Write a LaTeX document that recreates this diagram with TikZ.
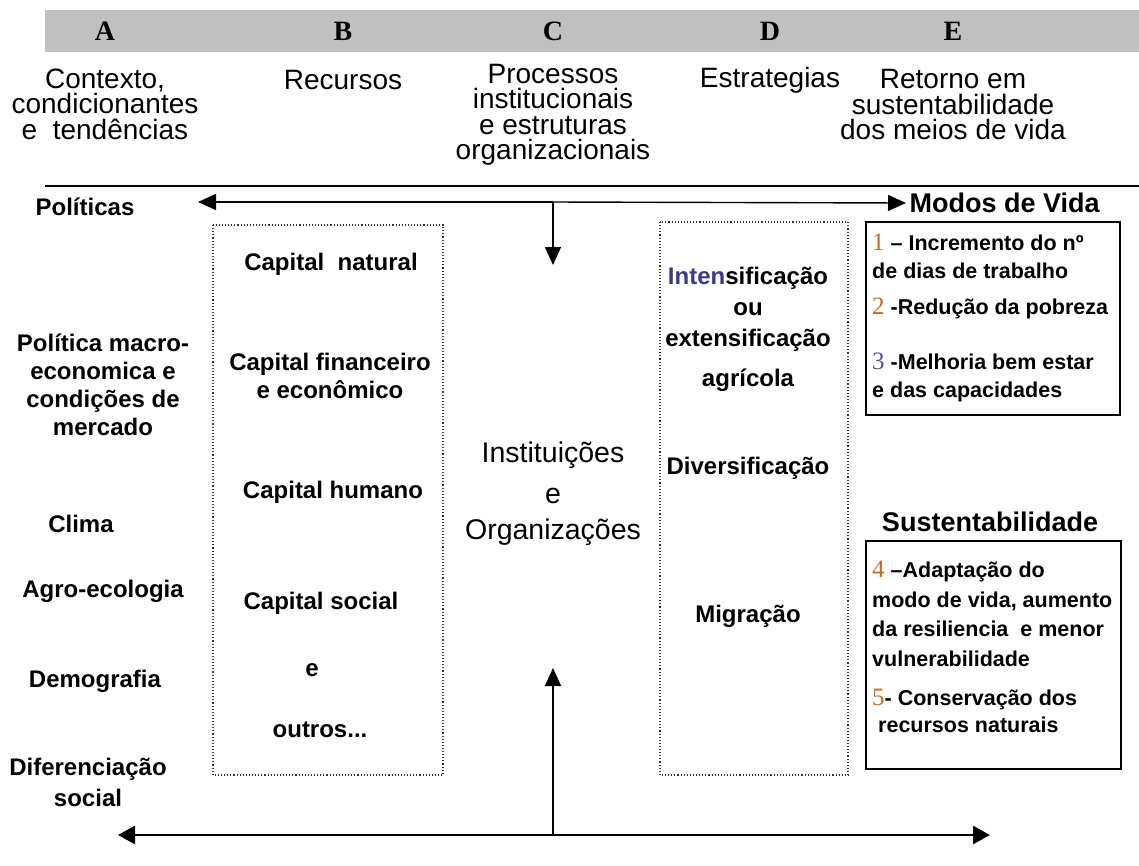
\documentclass[tikz,border=0pt]{standalone}
\usepackage{fontspec}
\setmainfont{Liberation Sans}
\newfontfamily\numfont{Liberation Serif}
\usetikzlibrary{arrows.meta}

\definecolor{bandgray}{RGB}{192,192,192}
\definecolor{numorange}{RGB}{196,106,36}
\definecolor{numblue}{RGB}{88,80,168}
\definecolor{intblue}{RGB}{60,56,140}
\newcommand{\nr}[2]{{\color{#1}\numfont\mdseries\fontsize{25}{25}\selectfont #2}}

\begin{document}
\begin{tikzpicture}[x=1pt, y=-1pt,
  letter/.style={font=\numfont\bfseries\fontsize{28}{28}\selectfont},
  head/.style={font=\fontsize{28}{25.5}\selectfont, align=center},
  txt/.style={font=\bfseries\fontsize{24}{28}\selectfont, align=center},
  inst/.style={font=\fontsize{28.5}{28}\selectfont, align=center},
  side/.style={font=\bfseries\fontsize{27}{27}\selectfont},
  small/.style={font=\bfseries\fontsize{21.5}{28}\selectfont, anchor=west, align=left, inner sep=0pt},
  dotbox/.style={dotted, line width=1.1pt, black!80},
  tip/.style={line width=1.4pt, -{Triangle[length=18pt,width=16pt]}},
  tips/.style={line width=2.8pt, {Triangle[length=17pt,width=18pt]}-{Triangle[length=17pt,width=18pt]}}]
\useasboundingbox (0,0) rectangle (1139,865);
\fill[bandgray] (45,10) rectangle (1139,52); % grey band
\node[letter] (la) at (105,31) {A};
\node[letter] (lb) at (343,31) {B};
\node[letter] (lc) at (553,31) {C};
\node[letter] (ld) at (770,31) {D};
\node[letter] (le) at (953,31) {E};
\node[head] (ha) at (105,104) {Contexto,\\condicionantes\\e~~tendências};
\node[head] (hb) at (343,80) {Recursos};
\node[head] (hc) at (553,115) {Processos\\institucionais\\e estruturas\\organizacionais};
\node[head] (hd) at (770,80) {Estrategias};
\node[head] (he) at (953,105) {Retorno em\\sustentabilidade\\dos meios de vida};
\draw[line width=1.6pt] (45,186) -- (1139,186); % rule under titles

% column A
\node[txt] (pol) at (85,207) {Políticas};
\node[txt] (macro) at (103,385) {Política macro-\\economica e\\condições de\\mercado};
\node[txt] (clima) at (81,524) {Clima};
\node[txt] (agro) at (103,591) {Agro-ecologia};
\node[txt] (demo) at (95,681) {Demografia};
\node[txt, font=\bfseries\fontsize{24}{31}\selectfont] (dif) at (88,782) {Diferenciação\\social};

% column B
\draw[dotbox] (213,225) rectangle (443,775); % recursos frame
\node[txt] (cnat) at (331,264) {Capital~~natural};
\node[txt] (cfin) at (330,376) {Capital financeiro\\e econômico};
\node[txt] (chum) at (333,492) {Capital humano};
\node[txt] (csoc) at (321,603) {Capital social};
\node[txt] (ce) at (312,670) {e};
\node[txt] (cout) at (320,730) {outros...};

% column C
\node[inst] (inst) at (553,455) {Instituições};
\node[inst] (ie) at (553,496) {e};
\node[inst] (org) at (553,532) {Organizações};

% column D
\draw[dotbox] (660,222) rectangle (848,775); % estrategias frame
\node[txt, font=\bfseries\fontsize{24}{31}\selectfont] (intens) at (748,309) {\textcolor{intblue}{Inten}sificação\\ou\\extensificação};
\node[txt] (agric) at (748,380) {agrícola};
\node[txt] (divers) at (748,468) {Diversificação};
\node[txt] (migr) at (748,616) {Migração};

% column E
\node[side, anchor=west] (modos) at (906,203) {Modos de Vida};
\draw[line width=1.3pt] (866,222) rectangle (1120,415); % box 1
\node[small] (r1) at (872,256) {\nr{numorange}{1} – Incremento do nº\\de dias de trabalho};
\node[small] (r2) at (872,308) {\nr{numorange}{2} -Redução da pobreza};
\node[small] (r3) at (872,377) {\nr{numblue}{3} -Melhoria bem estar\\e das capacidades};
\node[side] (sust) at (990,522) {Sustentabilidade};
\draw[line width=1.3pt] (866,541) rectangle (1121,769); % box 2
\node[small, font=\bfseries\fontsize{21.5}{29.5}\selectfont] (r4) at (872,614) {\nr{numorange}{4} –Adaptação do\\modo de vida, aumento\\da resiliencia~~e menor\\vulnerabilidade};
\node[small, font=\bfseries\fontsize{21.5}{27}\selectfont] (r5) at (872,711) {\nr{numorange}{5}- Conservação dos\\~recursos naturais};

% arrows
\coordinate (ctop) at (553,202);
\coordinate (ptip) at (198,202);
\coordinate (cdown) at (553,265);
\draw[tip] (ctop) -- (ptip); % to politicas
\draw[tip] (ctop) -- (modos.west); % to modos de vida
\draw[tip] (ctop) -- (cdown); % down into C
\coordinate (bl) at (118,835);
\coordinate (br) at (990,835);
\coordinate (cbot) at (553,835);
\coordinate (cup) at (553,668);
\draw[tips] (bl) -- (br); % bottom double arrow
\draw[tip] (cbot) -- (cup); % up into C
\end{tikzpicture}
\end{document}
